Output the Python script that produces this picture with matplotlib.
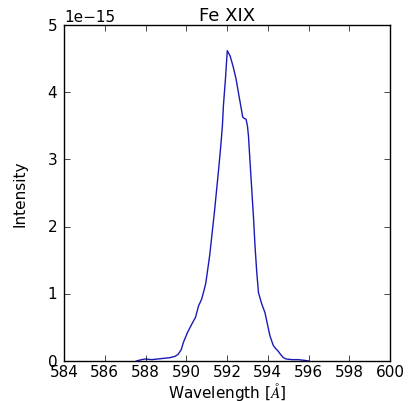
import matplotlib
matplotlib.use("Agg")
import matplotlib.pyplot as plt
import numpy as np

plt.style.use('classic')

wavelength = [587.55, 587.8, 588.0, 588.3, 588.6, 588.9, 589.2, 589.45, 589.6, 589.75, 589.86,
              590.05, 590.27, 590.45, 590.6, 590.75, 590.84, 590.95, 591.03, 591.15, 591.25,
              591.38, 591.49, 591.6, 591.69, 591.77, 591.82, 591.92, 592.01, 592.08, 592.15,
              592.3, 592.44, 592.6, 592.77, 592.85, 592.93, 593.0, 593.05, 593.12, 593.21,
              593.3, 593.37, 593.45, 593.54, 593.7, 593.86, 594.0, 594.1, 594.2, 594.27,
              594.4, 594.5, 594.62, 594.76, 594.9, 595.2, 595.5, 595.8, 596.0]
intensity = [0.0, 0.02, 0.03, 0.02, 0.03, 0.04, 0.05, 0.07, 0.10, 0.17, 0.28,
             0.42, 0.55, 0.65, 0.82, 0.92, 1.02, 1.15, 1.32, 1.58, 1.86,
             2.22, 2.56, 2.90, 3.20, 3.50, 3.80, 4.20, 4.62, 4.58, 4.54,
             4.38, 4.20, 3.92, 3.63, 3.61, 3.60, 3.50, 3.35, 3.00, 2.56,
             2.12, 1.72, 1.35, 1.02, 0.85, 0.72, 0.52, 0.38, 0.29, 0.23,
             0.18, 0.15, 0.10, 0.05, 0.03, 0.02, 0.02, 0.01, 0.0]

xticks = np.arange(584, 601, 2)
yticks = [0, 1, 2, 3, 4, 5]

fig = plt.figure(figsize=(4.11, 4.02), dpi=100, facecolor='white')
ax = fig.add_axes([0.156, 0.0995, 0.793, 0.8355])
ax.plot(wavelength, np.array(intensity) * 1e-15, color='#1a1ab8', linewidth=1.0)
ax.set_xlim(584, 600)
ax.set_ylim(0, 5e-15)
ax.set_xticks(xticks)
ax.set_yticks(np.array(yticks) * 1e-15)
ax.set_title('Fe XIX', fontsize=13, pad=4)
ax.set_xlabel(r'Wavelength [$\AA$]', fontsize=11, labelpad=1)
ax.set_ylabel('Intensity', fontsize=11, labelpad=14)
ax.tick_params(axis='x', labelsize=11, pad=2)
ax.tick_params(axis='y', labelsize=11, pad=5)
ax.yaxis.get_offset_text().set_fontsize(11)
fig.savefig('out.png', dpi=100, facecolor='white')
